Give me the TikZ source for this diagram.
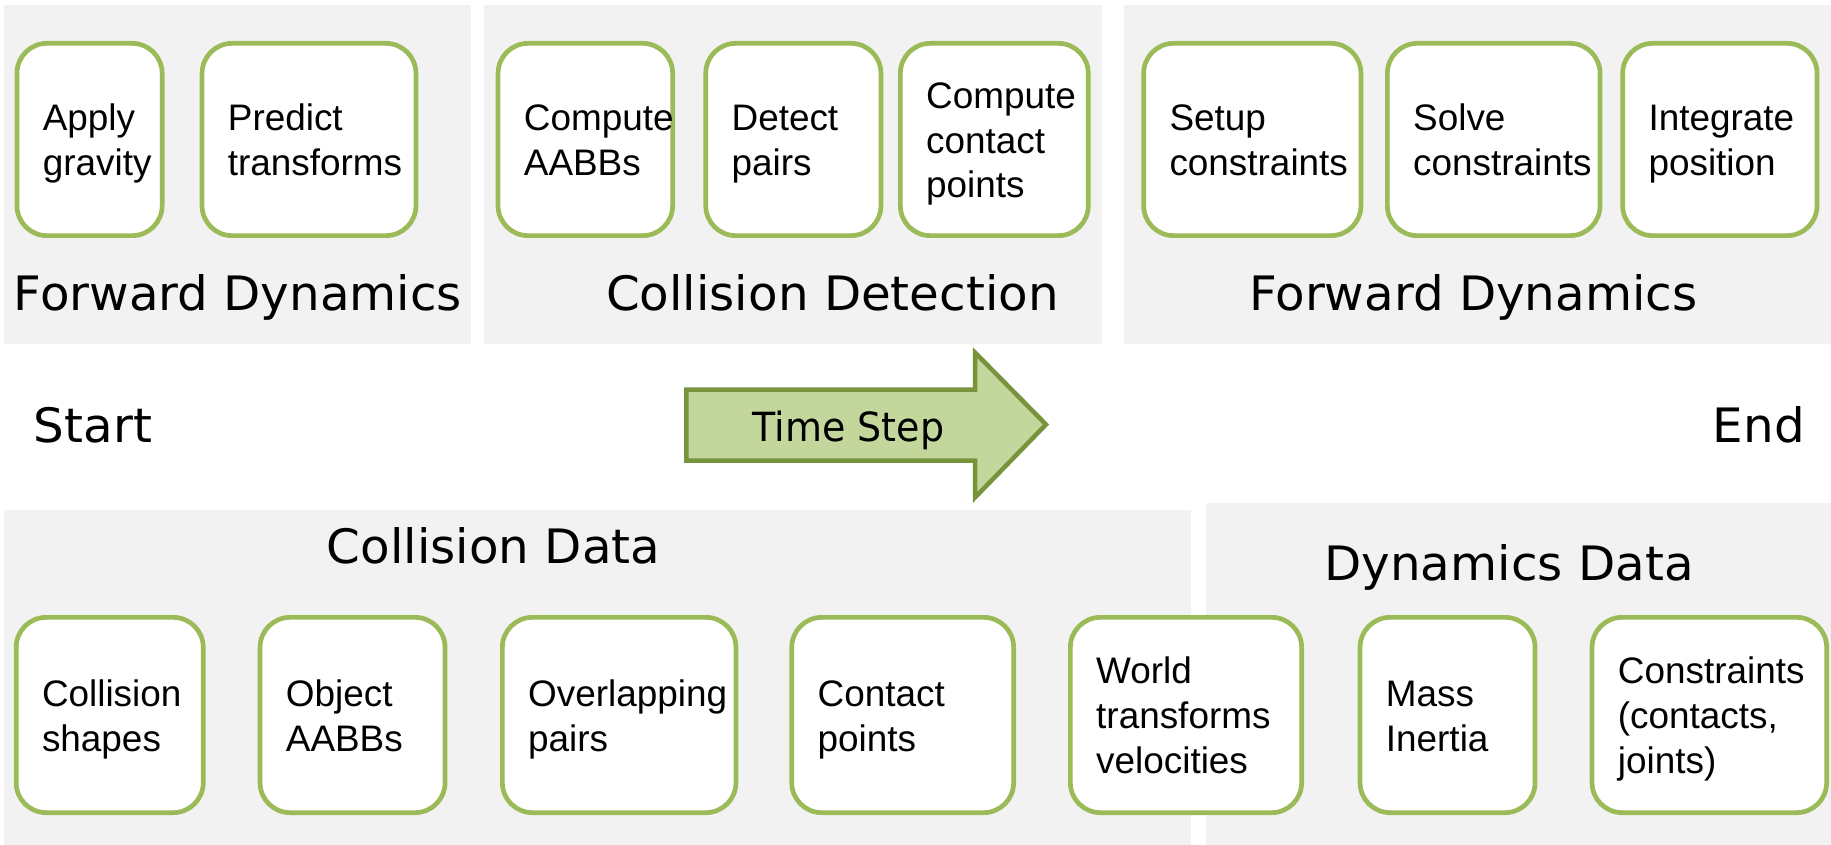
\documentclass[tikz,border=0pt]{standalone}
\usepackage{fontspec}
\setmainfont{Liberation Sans}
\newfontfamily\titlefont[FakeStretch=1.02]{DejaVu Sans}
\newfontfamily\arrowfont[FakeStretch=0.945]{DejaVu Sans}
\usetikzlibrary{calc}

\definecolor{panelgray}{HTML}{F2F2F2}
\definecolor{boxgreen}{HTML}{9BBB59}
\definecolor{arrowfill}{HTML}{C3D69B}
\definecolor{arrowline}{HTML}{77933C}

\tikzset{
  panel/.style={fill=panelgray, draw=none},
  stepbox/.style={draw=boxgreen, line width=4.7pt, fill=white,
    rounded corners=30pt, inner sep=0pt, shape=rectangle},
  boxtext/.style={anchor=base west, inner sep=0pt,
    font=\fontsize{36.9}{44.8}\selectfont},
  title/.style={inner sep=0pt, font=\titlefont\fontsize{47.4}{56}\selectfont},
  steplabel/.style={inner sep=0pt, anchor=base, font=\arrowfont\fontsize{40.2}{48}\selectfont},
  timearrow/.style={fill=arrowfill, draw=arrowline, line width=4.5pt, line join=miter},
}

% #1 name, #2 left edge, #3 right edge, #4 centre y, #5 height, #6 lines, #7 text
\newcommand\mkbox[7]{%
  \pgfmathsetmacro\bxw{#3-#2-4.7}%
  \pgfmathsetmacro\bxc{(#2+#3)/2}%
  \node[stepbox, minimum width=\bxw pt, minimum height=#5pt] (#1) at (\bxc,#4) {};
  \node[boxtext] (#1-text) at ($(#1.west)+(28,{13.6-(#6-1)*22.4})$)
    {\begin{tabular}[t]{@{}l@{}}#7\end{tabular}};
}

\begin{document}
\begin{tikzpicture}[x=1pt, y=-1pt]
\useasboundingbox (0,0) rectangle (1831,845);

% background panels
\fill[panel] (3.5,5.5) rectangle (470.5,344);
\fill[panel] (483.5,5.5) rectangle (1102,344);
\fill[panel] (1124,5.5) rectangle (1831,344);
\fill[panel] (3.5,509.5) rectangle (1191,845);
\fill[panel] (1205.5,503) rectangle (1831,845);

% stage titles
\node[title, anchor=base] (fd1) at (238,310.7) {Forward Dynamics};
\node[title, anchor=base] (cdet) at (832.5,310.7) {Collision Detection};
\node[title, anchor=base] (fd2) at (1473.4,310.7) {Forward Dynamics};
\node[title, anchor=base] (cdata) at (493.6,563.5) {Collision Data};
\node[title, anchor=base] (ddata) at (1509,580) {Dynamics Data};
\node[title, anchor=base west] (start) at (33.7,442) {Start};
\node[title, anchor=base east] (end) at (1805,442) {End};

% pipeline steps
\mkbox{grav}{14.6}{164.5}{139.5}{192.3}{2}{Apply\\gravity}
\mkbox{pred}{199.7}{418.3}{139.5}{192.3}{2}{Predict\\transforms}
\mkbox{aabb}{495.7}{675}{139.5}{192.3}{2}{Compute\\AABBs}
\mkbox{pairs}{703.4}{883.3}{139.5}{192.3}{2}{Detect\\pairs}
\mkbox{cpts}{898}{1090.6}{139.5}{192.3}{3}{Compute\\contact\\points}
\mkbox{setup}{1141.3}{1363.3}{139.5}{192.3}{2}{Setup\\constraints}
\mkbox{solve}{1385}{1602.4}{139.5}{192.3}{2}{Solve\\constraints}
\mkbox{integ}{1620.3}{1819.4}{139.5}{192.3}{2}{Integrate\\position}

% data stores
\mkbox{shapes}{13.8}{205.6}{715}{195.3}{2}{Collision\\shapes}
\mkbox{oaabb}{257.7}{447.4}{715}{195.3}{2}{Object\\AABBs}
\mkbox{overlap}{500}{738.3}{715}{195.3}{2}{Overlapping\\pairs}
\mkbox{contacts}{789.4}{1016}{715}{195.3}{2}{Contact\\points}
\mkbox{world}{1068}{1304}{715}{195.3}{3}{World\\transforms\\velocities}
\mkbox{mass}{1357.7}{1537.4}{715}{195.3}{2}{Mass\\Inertia}
\mkbox{cons}{1589.7}{1829}{715}{195.3}{3}{Constraints\\(contacts,\\joints)}

% time step arrow
\draw[timearrow] (686.3,389.5) -- (975,389.5) -- (975,352.5) -- (1046,424.5)
  -- (975,497.5) -- (975,460.5) -- (686.3,460.5) -- cycle;
\node[steplabel] (tstep) at (848.4,441) {Time Step};
\end{tikzpicture}
\end{document}
